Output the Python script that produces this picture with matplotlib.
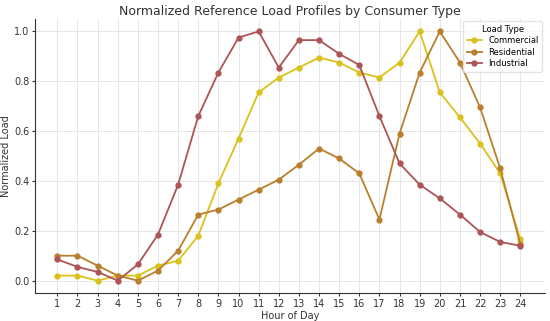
import matplotlib

matplotlib.use("Agg")
import matplotlib.pyplot as plt
import numpy as np

hours = list(range(1, 25))
commercial = [0.02, 0.02, 0.0, 0.02, 0.02, 0.06, 0.08, 0.18, 0.39, 0.57, 0.755, 0.815,
              0.855, 0.895, 0.875, 0.835, 0.815, 0.875, 1.0, 0.755, 0.655, 0.55, 0.43, 0.165]
residential = [0.10, 0.10, 0.06, 0.02, 0.0, 0.04, 0.12, 0.265, 0.285, 0.325, 0.365, 0.405,
               0.465, 0.53, 0.49, 0.43, 0.245, 0.59, 0.835, 1.0, 0.875, 0.695, 0.45, 0.145]
industrial = [0.085, 0.055, 0.035, 0.0, 0.065, 0.185, 0.385, 0.66, 0.835, 0.975, 1.0, 0.855,
              0.965, 0.965, 0.91, 0.865, 0.66, 0.47, 0.385, 0.33, 0.265, 0.195, 0.155, 0.14]

series = [("Commercial", commercial, "#d9c21c"),
          ("Residential", residential, "#b97f2c"),
          ("Industrial", industrial, "#ad5456")]

fig, ax = plt.subplots(figsize=(5.5, 3.21), dpi=100)
for name, vals, col in series:
    ax.plot(hours, vals, marker="o", ms=3.5, lw=1.3, color=col, label=name)

ax.set_xticks(hours)
ax.set_yticks(np.arange(0, 1.01, 0.2))
ax.set_xlim(-0.1, 25.2)
ax.set_ylim(-0.05, 1.05)
ax.tick_params(labelsize=7, length=2.5, pad=1.5, color="#333333", labelcolor="#333333")
ax.grid(True, color="#e6e6e6", lw=0.7)
ax.set_axisbelow(True)
for s in ["top", "right"]:
    ax.spines[s].set_visible(False)
for s in ["left", "bottom"]:
    ax.spines[s].set_color("#333333")
ax.set_xlabel("Hour of Day", fontsize=7, color="#333333", labelpad=1.5)
ax.set_ylabel("Normalized Load", fontsize=7, color="#333333", labelpad=2)
ax.set_title("Normalized Reference Load Profiles by Consumer Type", fontsize=9, color="#333333", pad=3)
leg = ax.legend(title="Load Type", fontsize=6, title_fontsize=6, loc="upper right",
                frameon=True, edgecolor="#dddddd", labelspacing=0.3, handlelength=1.8,
                borderaxespad=0.3, borderpad=0.4)
fig.subplots_adjust(left=0.064, right=0.99, top=0.941, bottom=0.087)
fig.savefig("out.png", dpi=100)
